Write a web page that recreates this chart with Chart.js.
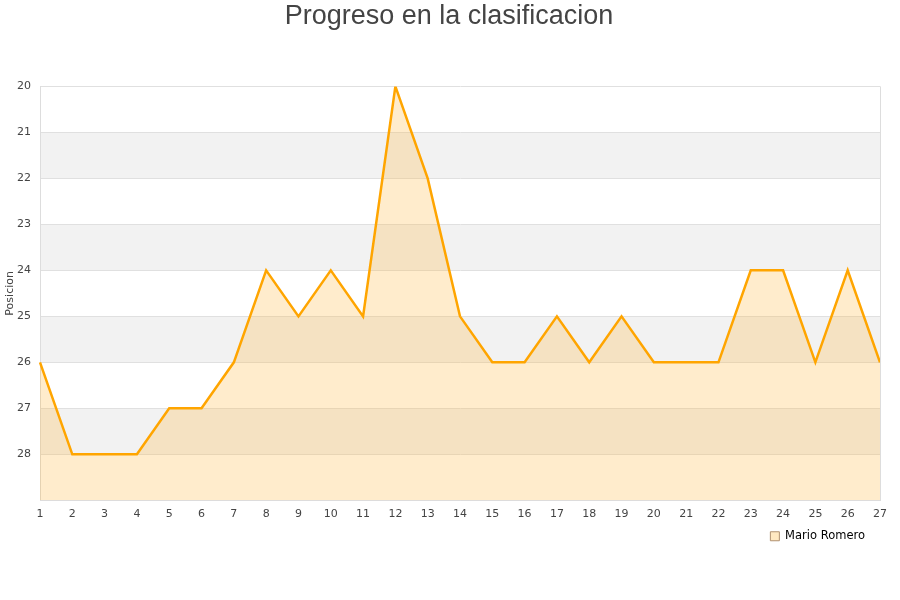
<!DOCTYPE html>
<html>
<head>
<meta charset="utf-8">
<script src="https://cdn.jsdelivr.net/npm/chart.js@4"></script>
<style>
  html, body { margin: 0; padding: 0; background: #fff; }
  #wrap { width: 900px; height: 600px; }
</style>
</head>
<body>
<div id="wrap"><canvas id="chart" width="900" height="600"></canvas></div>
<script>
// Jornadas and position per jornada
const jornadas = ['1','2','3','4','5','6','7','8','9','10','11','12','13','14','15','16','17','18','19','20','21','22','23','24','25','26','27'];
const posiciones = [26, 28, 28, 28, 27, 27, 26, 24, 25, 24, 25, 20, 22, 25, 26, 26, 25, 26, 25, 26, 26, 26, 24, 24, 26, 24, 26];
const jugador = 'Mario Romero';
const bandasGrises = [[21, 22], [23, 24], [25, 26], [27, 28]];

// grey alternating bands behind the plot
const bandPlugin = {
  id: 'bands',
  beforeDraw(chart) {
    const { ctx, chartArea, scales } = chart;
    const y = scales.y;
    ctx.save();
    ctx.fillStyle = '#f2f2f2';
    bandasGrises.forEach(b => {
      const y1 = y.getPixelForValue(b[0]);
      const y2 = y.getPixelForValue(b[1]);
      ctx.fillRect(chartArea.left, y1, chartArea.right - chartArea.left, y2 - y1);
    });
    ctx.restore();
  }
};

// center the title on the whole canvas, pull the legend a bit to the left
const boxTweaks = {
  id: 'boxTweaks',
  afterLayout(chart) {
    if (chart.titleBlock) {
      chart.titleBlock.left = 0;
      chart.titleBlock.right = chart.width - 2;
    }
    if (chart.legend) {
      chart.legend.right -= 12;
    }
  }
};

const rightBorder = {
  id: 'rightBorder',
  afterDraw(chart) {
    const { ctx, chartArea } = chart;
    ctx.save();
    ctx.strokeStyle = '#ddd';
    ctx.lineWidth = 1;
    ctx.beginPath();
    ctx.moveTo(chartArea.right + 0.5, chartArea.top);
    ctx.lineTo(chartArea.right + 0.5, chartArea.bottom);
    ctx.stroke();
    ctx.restore();
  }
};

new Chart(document.getElementById('chart').getContext('2d'), {
  type: 'line',
  data: {
    labels: jornadas,
    datasets: [{
      label: jugador,
      data: posiciones,
      borderColor: '#ffa500',
      backgroundColor: 'rgba(255,180,50,0.25)',
      borderWidth: 2.5,
      pointRadius: 0,
      tension: 0,
      fill: { value: 29 }
    }]
  },
  options: {
    responsive: false,
    animation: false,
    layout: { padding: { left: 4, right: 20, top: 0, bottom: 48 } },
    plugins: {
      title: {
        display: true,
        text: 'Progreso en la clasificacion',
        color: '#444',
        font: { family: 'Liberation Sans', size: 27, weight: 'normal' },
        padding: { top: 0, bottom: 54 }
      },
      legend: {
        position: 'bottom',
        align: 'end',
        labels: {
          color: '#000',
          font: { family: 'DejaVu Sans', size: 11.5 },
          boxWidth: 9,
          boxHeight: 9,
          padding: 3,
          generateLabels(chart) {
            return [{
              text: jugador,
              fillStyle: 'rgba(255,180,50,0.3)',
              strokeStyle: '#b09070',
              lineWidth: 1,
              fontColor: '#000',
              datasetIndex: 0
            }];
          }
        }
      },
      tooltip: { enabled: false }
    },
    scales: {
      x: {
        offset: false,
        grid: { display: false, drawTicks: false },
        border: { color: '#ddd' },
        ticks: { color: '#444', font: { family: 'DejaVu Sans', size: 11 }, padding: 7, maxRotation: 0, autoSkip: false }
      },
      y: {
        reverse: true,
        min: 20,
        max: 29,
        afterFit(scale) { scale.width = 36; },
        grid: { color: '#e0e0e0', drawTicks: false },
        border: { color: '#ddd' },
        title: { display: true, text: 'Posicion', color: '#444', font: { family: 'DejaVu Sans', size: 11 }, padding: 0 },
        ticks: {
          stepSize: 1,
          color: '#444',
          font: { family: 'DejaVu Sans', size: 11 },
          padding: 9,
          callback: v => (v === 29 ? '' : v)
        }
      }
    }
  },
  plugins: [bandPlugin, boxTweaks, rightBorder]
});
</script>
</body>
</html>
